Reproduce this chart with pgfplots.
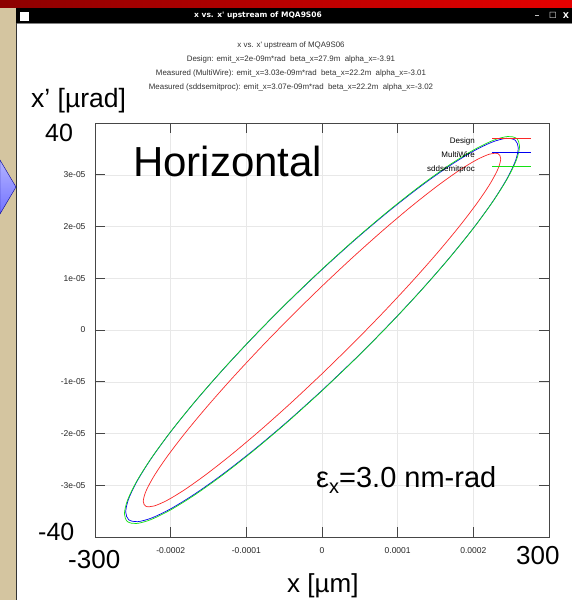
\documentclass[border=0pt]{standalone}
\usepackage{fontspec}
\setmainfont{Liberation Sans}
\newfontfamily\djv{DejaVu Sans}
\usepackage{pgfplots}
\pgfplotsset{compat=1.18}
\definecolor{tanbg}{RGB}{212,197,160}
\definecolor{gridc}{RGB}{232,232,232}
\definecolor{framec}{RGB}{70,70,70}
\definecolor{gpgreen}{RGB}{20,225,20}
\definecolor{gpblue}{RGB}{0,0,240}
\definecolor{gpred}{RGB}{250,40,40}
\begin{document}
\begin{tikzpicture}
\useasboundingbox (0pt,0pt) rectangle (572pt,600pt);
\fill[white] (0pt,0pt) rectangle (572pt,600pt);
\fill[tanbg] (0pt,0pt) rectangle (16pt,593pt);
\shade[left color=red!55!black, right color=red!90!black] (0pt,592pt) rectangle (572pt,600pt);
\fill[black] (16pt,577pt) rectangle (572pt,592pt);
\fill[gray] (16pt,576pt) rectangle (572pt,577pt);
\draw[black!80, line width=1pt] (16.5pt,0pt) -- (16.5pt,577pt);
\shade[top color=blue!30!white, bottom color=blue!55!white, draw=blue!60!black] (0pt,440pt) -- (16pt,413pt) -- (0pt,386pt) -- cycle;
\fill[white] (20pt,579pt) rectangle (29pt,588pt);
\node[white, font=\djv\bfseries\fontsize{7.5}{9}\selectfont] at (258pt,584.5pt) {x vs. x\textquotesingle{} upstream of MQA9S06};
\node[white, font=\djv\bfseries\fontsize{8}{9}\selectfont] at (537pt,585pt) {\_};
\node[white, font=\djv\fontsize{8}{9}\selectfont] at (553pt,584.5pt) {□};
\node[white, font=\djv\bfseries\fontsize{8}{9}\selectfont] at (566pt,584.5pt) {X};
% gnuplot title
\begin{scope}[every node/.style={font=\fontsize{7.9}{9}\selectfont, text=black!80}]
\node at (291pt,555pt) {x vs. x\textquotesingle{} upstream of MQA9S06};
\node at (291pt,541pt) {Design: emit\_x=2e-09m*rad~~beta\_x=27.9m~~alpha\_x=-3.91};
\node at (291pt,527pt) {Measured (MultiWire): emit\_x=3.03e-09m*rad~~beta\_x=22.2m~~alpha\_x=-3.01};
\node at (291pt,513pt) {Measured (sddsemitproc): emit\_x=3.07e-09m*rad~~beta\_x=22.2m~~alpha\_x=-3.02};
\end{scope}
\begin{axis}[at={(95pt,63pt)}, anchor=south west, scale only axis,
  width=454pt, height=414pt,
  xmin=-300, xmax=300, ymin=-40, ymax=40,
  xtick={-200,-100,0,100,200},
  xticklabels={-0.0002,-0.0001,0,0.0001,0.0002},
  ytick={-30,-20,-10,0,10,20,30},
  yticklabels={-3e-05,-2e-05,-1e-05,0,1e-05,2e-05,3e-05},
  tick align=inside, major tick length=10pt,
  grid=major, grid style={gridc, line width=0.5pt},
  axis line style={framec, line width=0.8pt},
  tick style={framec, line width=0.8pt},
  ticklabel style={font=\fontsize{8.5}{10}\selectfont, text=black!85},
  xticklabel style={yshift=-7pt},
  yticklabel style={xshift=-6pt},
  legend style={at={(0.969,0.971)}, anchor=north east, draw=none, fill=none,
    font=\fontsize{8}{9}\selectfont,
    nodes={inner sep=0pt, text height=6pt, text depth=1.5pt},
    row sep=6.5pt, column sep=17pt},
  legend cell align=right, legend plot pos=right,
  legend image code/.code={\draw[#1, line width=0.9pt] (0pt,2.3pt) -- (39pt,2.3pt);},
]
\addplot[color=gpred, line width=0.7pt, smooth] coordinates {
(0,-8.467) (-41.016,-14.087) (-80.785,-19.279) (-118.1,-23.886) (-151.827,-27.766)
(-180.939,-30.804) (-204.556,-32.905) (-221.955,-34.005) (-232.612,-34.073) (-236.2,-33.106)
(-232.612,-31.133) (-221.955,-28.213) (-204.556,-24.437) (-180.939,-19.918) (-151.827,-14.794)
(-118.1,-9.220) (-80.785,-3.367) (-41.016,2.589) (0,8.467) (41.016,14.087)
(80.785,19.279) (118.1,23.886) (151.827,27.766) (180.939,30.804) (204.556,32.905)
(221.955,34.005) (232.612,34.073) (236.2,33.106) (232.612,31.133) (221.955,28.213)
(204.556,24.437) (180.939,19.918) (151.827,14.794) (118.1,9.220) (80.785,3.367)
(41.016,-2.589) (0,-8.467)
};
\addlegendentry{Design}
\addplot[color=gpblue, line width=0.7pt, smooth] coordinates {
(0,-11.683) (-45.045,-17.613) (-88.720,-23.005) (-129.7,-27.701) (-166.740,-31.554)
(-198.711,-34.449) (-224.648,-36.297) (-243.756,-37.041) (-255.460,-36.661) (-259.4,-35.166)
(-255.460,-32.603) (-243.756,-29.049) (-224.648,-24.613) (-198.711,-19.429) (-166.740,-13.654)
(-129.7,-7.465) (-88.720,-1.049) (-45.045,5.399) (0,11.683) (45.045,17.613)
(88.720,23.005) (129.7,27.701) (166.740,31.554) (198.711,34.449) (224.648,36.297)
(243.756,37.041) (255.460,36.661) (259.4,35.166) (255.460,32.603) (243.756,29.049)
(224.648,24.613) (198.711,19.429) (166.740,13.654) (129.7,7.465) (88.720,1.049)
(45.045,-5.399) (0,-11.683)
};
\addlegendentry{MultiWire}
\addplot[color=gpgreen, line width=0.7pt, smooth] coordinates {
(0,-11.760) (-45.340,-17.748) (-89.301,-23.198) (-130.55,-27.943) (-167.832,-31.838)
(-200.013,-34.765) (-226.120,-36.637) (-245.353,-37.395) (-257.134,-37.018) (-261.1,-35.515)
(-257.134,-32.934) (-245.353,-29.351) (-226.120,-24.877) (-200.013,-19.647) (-167.832,-13.820)
(-130.55,-7.573) (-89.301,-1.096) (-45.340,5.414) (0,11.760) (45.340,17.748)
(89.301,23.198) (130.55,27.943) (167.832,31.838) (200.013,34.765) (226.120,36.637)
(245.353,37.395) (257.134,37.018) (261.1,35.515) (257.134,32.934) (245.353,29.351)
(226.120,24.877) (200.013,19.647) (167.832,13.820) (130.55,7.573) (89.301,1.096)
(45.340,-5.414) (0,-11.760)
};
\addlegendentry{sddsemitproc}
\end{axis}
% overlay labels
\node[anchor=base west, inner sep=0pt, font=\fontsize{26.5}{30}\selectfont] at (31pt,492pt) {x’ [µrad]};
\node[anchor=base west, inner sep=0pt, font=\fontsize{25}{30}\selectfont] at (45pt,458pt) {40};
\node[anchor=base west, inner sep=0pt, font=\fontsize{25}{30}\selectfont] at (38pt,59pt) {-40};
\node[anchor=base west, inner sep=0pt, font=\fontsize{26}{30}\selectfont] at (68pt,31pt) {-300};
\node[anchor=base west, inner sep=0pt, font=\fontsize{26}{30}\selectfont] at (516pt,35pt) {300};
\node[anchor=base west, inner sep=0pt, font=\fontsize{26}{30}\selectfont] at (287pt,8pt) {x [µm]};
\node[anchor=base west, inner sep=0pt, font=\fontsize{42}{48}\selectfont] at (133pt,423pt) {Horizontal};
\node[anchor=base west, inner sep=0pt, font=\fontsize{29}{32}\selectfont] at (316pt,112pt) {ε{\fontsize{20}{20}\selectfont\raisebox{-6pt}{x}}=3.0 nm-rad};
\end{tikzpicture}
\end{document}
